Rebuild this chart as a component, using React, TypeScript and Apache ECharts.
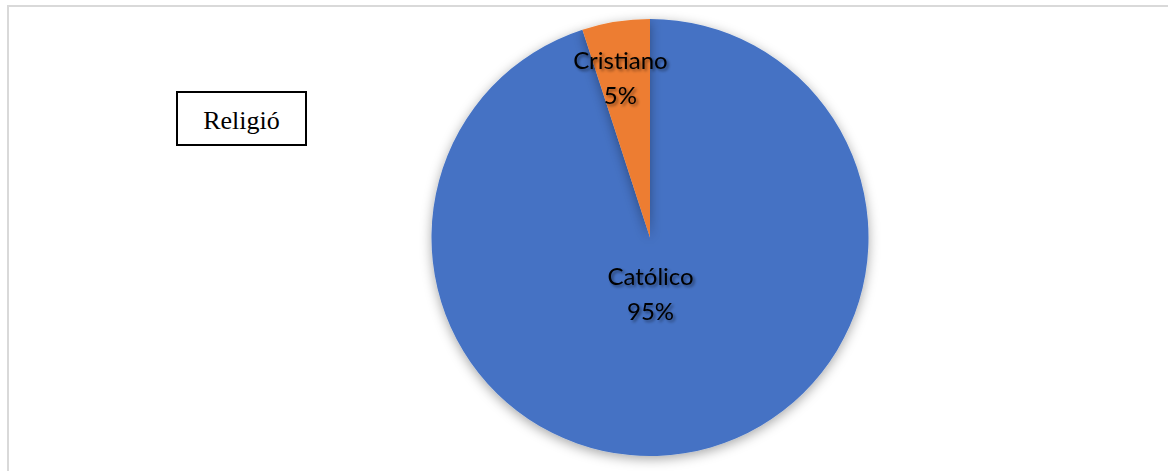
import React, { useEffect, useRef } from "react";
import * as echarts from "echarts";

const categories = ["Católico", "Cristiano"];
const values = [95, 5];
const colors = ["#4472C4", "#ED7D31"];
const labelOffsets = [[-17, -55], [-12, -50]];
const boxTitle = "Religió";

export default function App() {
  const ref = useRef<HTMLDivElement>(null);
  useEffect(() => {
    document.body.style.margin = "0";
    const chart = echarts.init(ref.current!, null, { renderer: "svg" });
    const data = categories.map((name, i) => ({
      name,
      value: values[i],
      itemStyle: { color: colors[i] },
      label: { offset: labelOffsets[i] },
    }));
    chart.setOption({
      animation: false,
      backgroundColor: "#ffffff",
      graphic: [
        {
          type: "rect",
          shape: { x: 8, y: 6, width: 1170, height: 480 },
          style: { fill: "none", stroke: "#d9d9d9", lineWidth: 2 },
          silent: true,
        },
        {
          type: "rect",
          shape: { x: 177, y: 92, width: 129, height: 53 },
          style: { fill: "#fff", stroke: "#000", lineWidth: 2 },
        },
        {
          type: "text",
          x: 241.5,
          y: 120,
          style: {
            text: boxTitle,
            font: '26px "Liberation Serif", serif',
            fill: "#000",
            align: "center",
            verticalAlign: "middle",
          },
        },
      ],
      series: [
        {
          type: "pie",
          center: [650, 237.5],
          radius: [0, 218.5],
          startAngle: 90,
          clockwise: true,
          data,
          itemStyle: {
            borderWidth: 0,
            shadowBlur: 12,
            shadowColor: "rgba(0,0,0,0.35)",
            shadowOffsetX: 0,
            shadowOffsetY: 3,
          },
          label: {
            show: true,
            position: "inside",
            formatter: (p: any) => `${p.name}\n${Math.round(p.percent)}%`,
            fontFamily: "Lato, 'Open Sans', sans-serif",
            fontSize: 24,
            lineHeight: 35,
            color: "#000",
            textShadowColor: "rgba(0,0,0,0.45)",
            textShadowBlur: 3,
            textShadowOffsetX: 2,
            textShadowOffsetY: 2,
          },
          labelLine: { show: false },
          emphasis: { disabled: true },
        },
      ],
    });
    return () => chart.dispose();
  }, []);
  return <div ref={ref} style={{ width: 1168, height: 471 }} />;
}
